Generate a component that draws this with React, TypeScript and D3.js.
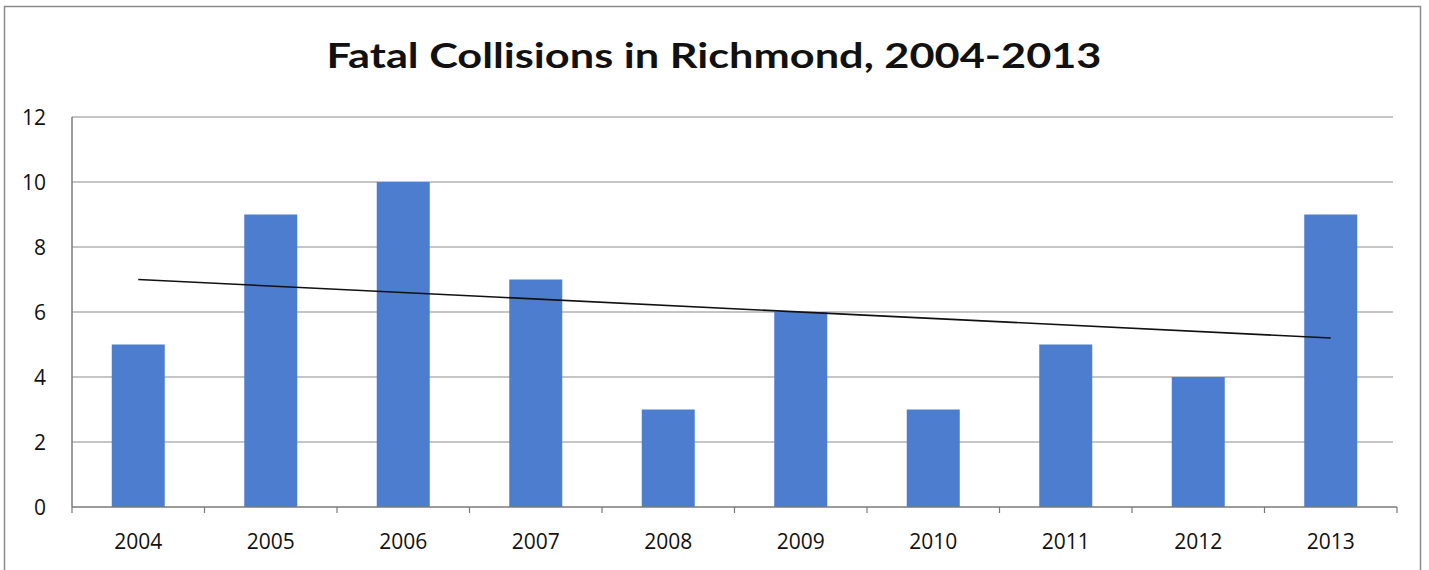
import { useEffect, useRef } from 'react'
import * as d3 from 'd3'

const years = ['2004', '2005', '2006', '2007', '2008', '2009', '2010', '2011', '2012', '2013']
const fatalities = [5, 9, 10, 7, 3, 6, 3, 5, 4, 9]
const yTicks = [0, 2, 4, 6, 8, 10, 12]
const title = 'Fatal Collisions in Richmond, 2004-2013'

export default function App() {
  const svgRef = useRef<SVGSVGElement>(null)

  useEffect(() => {
    if (!svgRef.current) return
    const width = 1429
    const height = 570
    const plot = { left: 72, right: 1397, top: 117, bottom: 507 }

    const x = d3.scaleBand<string>()
      .domain(years)
      .range([plot.left, plot.right])
      .paddingInner(0.6)
      .paddingOuter(0.3)

    const y = d3.scaleLinear().domain([0, 12]).range([plot.bottom, plot.top])

    const svg = d3.select(svgRef.current)
    svg.selectAll('*').remove()
    svg.attr('width', width).attr('height', height)

    const titleFont = 'Lato, "Open Sans", sans-serif'
    const font = '"Open Sans", "Noto Sans", sans-serif'

    // outer chart frame
    svg.append('rect')
      .attr('x', 4.5).attr('y', 6.5)
      .attr('width', 1416).attr('height', 600)
      .attr('fill', 'white')
      .attr('stroke', '#8a8a8a')
      .attr('stroke-width', 1.5)

    svg.append('text')
      .attr('x', 714).attr('y', 68)
      .attr('text-anchor', 'middle')
      .attr('font-family', titleFont)
      .attr('font-weight', 700)
      .attr('font-size', 35)
      .attr('textLength', 775)
      .attr('lengthAdjust', 'spacingAndGlyphs')
      .attr('fill', '#111')
      .text(title)

    // gridlines
    svg.append('g')
      .selectAll('line')
      .data(yTicks.filter(t => t > 0))
      .join('line')
      .attr('x1', plot.left).attr('x2', plot.right - 4)
      .attr('y1', d => y(d)).attr('y2', d => y(d))
      .attr('stroke', '#8c8c8c')
      .attr('stroke-width', 1.2)

    // y labels
    svg.append('g')
      .selectAll('text')
      .data(yTicks)
      .join('text')
      .attr('x', 46)
      .attr('y', d => y(d))
      .attr('dy', '0.36em')
      .attr('text-anchor', 'end')
      .attr('font-family', font)
      .attr('font-size', 21)
      .attr('fill', '#111')
      .text(d => String(d))

    // bars
    svg.append('g')
      .selectAll('rect')
      .data(years)
      .join('rect')
      .attr('x', d => x(d)!)
      .attr('width', x.bandwidth())
      .attr('y', (_, i) => y(fatalities[i]))
      .attr('height', (_, i) => y(0) - y(fatalities[i]))
      .attr('fill', '#4d7dcf')

    // axes
    svg.append('line')
      .attr('x1', plot.left).attr('x2', plot.left)
      .attr('y1', plot.top).attr('y2', plot.bottom)
      .attr('stroke', '#7a7a7a').attr('stroke-width', 1.5)

    svg.append('line')
      .attr('x1', plot.left).attr('x2', plot.right)
      .attr('y1', plot.bottom).attr('y2', plot.bottom)
      .attr('stroke', '#7a7a7a').attr('stroke-width', 1.5)

    const step = x.step()
    const boundaries = d3.range(years.length + 1).map(i => plot.left + i * step)
    svg.append('g')
      .selectAll('line')
      .data(boundaries)
      .join('line')
      .attr('x1', d => d).attr('x2', d => d)
      .attr('y1', plot.bottom).attr('y2', plot.bottom + 6)
      .attr('stroke', '#7a7a7a').attr('stroke-width', 1.2)

    // x labels
    svg.append('g')
      .selectAll('text')
      .data(years)
      .join('text')
      .attr('x', d => x(d)! + x.bandwidth() / 2)
      .attr('y', 549)
      .attr('text-anchor', 'middle')
      .attr('font-family', font)
      .attr('font-size', 21)
      .attr('fill', '#111')
      .text(d => d)

    // linear trendline (least squares over the bar values)
    const idx = fatalities.map((_, i) => i)
    const mx = d3.mean(idx)!
    const my = d3.mean(fatalities)!
    const sxy = d3.sum(idx, i => (i - mx) * (fatalities[i] - my))
    const sxx = d3.sum(idx, i => (i - mx) ** 2)
    const slope = sxy / sxx
    const icept = my - slope * mx
    const ends = [0, years.length - 1]
    svg.append('line')
      .attr('x1', x(years[ends[0]])! + x.bandwidth() / 2)
      .attr('y1', y(icept + slope * ends[0]))
      .attr('x2', x(years[ends[1]])! + x.bandwidth() / 2)
      .attr('y2', y(icept + slope * ends[1]))
      .attr('stroke', '#111')
      .attr('stroke-width', 1.6)
  }, [])

  return (
    <div style={{ position: 'absolute', left: 0, top: 0, background: 'white' }}>
      <svg ref={svgRef} style={{ display: 'block' }} />
    </div>
  )
}
